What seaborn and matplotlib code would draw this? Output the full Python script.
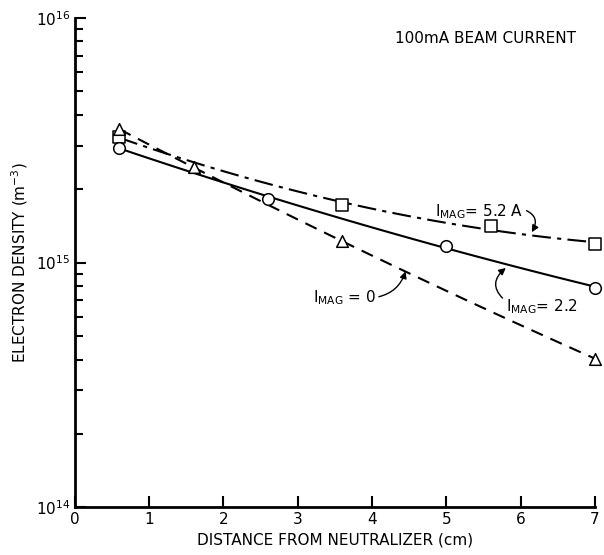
import numpy as np
import pandas as pd
import matplotlib
matplotlib.use("Agg")
import matplotlib.pyplot as plt
import seaborn as sns

x_52 = [0.6, 3.6, 5.6, 7.0]
n_52 = [3.25e15, 1.72e15, 1.41e15, 1.19e15]
x_22 = [0.6, 2.6, 5.0, 7.0]
n_22 = [2.95e15, 1.82e15, 1.17e15, 7.9e14]
x_0 = [0.6, 1.6, 3.6, 7.0]
n_0 = [3.5e15, 2.45e15, 1.22e15, 4.05e14]

sns.set_style("ticks")
plt.rcParams['font.family'] = ['DejaVu Sans']
plt.rcParams['text.color'] = 'black'
plt.rcParams['axes.labelcolor'] = 'black'
plt.rcParams['xtick.color'] = 'black'
plt.rcParams['ytick.color'] = 'black'

fig = plt.figure(figsize=(6.04, 5.55), dpi=100)
ax = fig.add_axes([0.124, 0.086, 0.861, 0.882])

series = [
    (x_52, n_52, 's', (0, (9, 3, 2, 3))),
    (x_22, n_22, 'o', '-'),
    (x_0, n_0, '^', (0, (6, 4))),
]
for xs, ns, mk, ls in series:
    # smooth curve through the points (quadratic fit in log space)
    coef = np.polyfit(xs, np.log10(ns), 2)
    xx = np.linspace(xs[0], xs[-1], 120)
    fit = pd.DataFrame({'x': xx, 'n': 10 ** np.polyval(coef, xx)})
    sns.lineplot(data=fit, x='x', y='n', ax=ax, color='black', lw=1.5,
                 linestyle=ls, legend=False)
    pts = pd.DataFrame({'x': xs, 'n': ns})
    sns.scatterplot(data=pts, x='x', y='n', ax=ax, marker=mk, s=70,
                    facecolor='white', edgecolor='black', linewidth=1.1,
                    zorder=5, clip_on=False, legend=False)

ax.set_yscale('log')
ax.set_xlim(0, 7)
ax.set_ylim(1e14, 1e16)
ax.set_xticks(range(8))
ax.tick_params(direction='in', length=8, width=1.5, labelsize=11)
ax.tick_params(which='minor', direction='in', length=6, width=1.5)
sns.despine(ax=ax)
for sp in ['left', 'bottom']:
    ax.spines[sp].set_linewidth(2)
    ax.spines[sp].set_color('black')

ax.set_xlabel('DISTANCE FROM NEUTRALIZER (cm)', fontsize=11)
ax.set_ylabel('ELECTRON DENSITY (m$^{-3}$)', fontsize=11)

ax.text(6.75, 8.2e15, '100mA BEAM CURRENT', ha='right', va='center', fontsize=11)

arrow = dict(arrowstyle='-|>', color='black', lw=1, mutation_scale=10)
ax.annotate(r'$\mathrm{I_{MAG}}$= 5.2 A', xy=(6.15, 1.33e15), xytext=(4.85, 1.62e15),
            fontsize=11, va='center',
            arrowprops=dict(arrow, connectionstyle='arc3,rad=-0.6',
                            shrinkA=0, shrinkB=0, relpos=(1, 0.6)))
ax.annotate(r'$\mathrm{I_{MAG}}$ = 0', xy=(4.45, 9.2e14), xytext=(3.2, 7.2e14),
            fontsize=11, va='center',
            arrowprops=dict(arrow, connectionstyle='arc3,rad=0.3',
                            shrinkA=0, shrinkB=0, relpos=(1, 0.5)))
ax.annotate(r'$\mathrm{I_{MAG}}$= 2.2', xy=(5.8, 9.5e14), xytext=(5.8, 6.6e14),
            fontsize=11, va='center',
            arrowprops=dict(arrow, connectionstyle='arc3,rad=-0.6',
                            shrinkA=0, shrinkB=0, relpos=(0, 0.8)))

fig.savefig('out.png', dpi=100)
